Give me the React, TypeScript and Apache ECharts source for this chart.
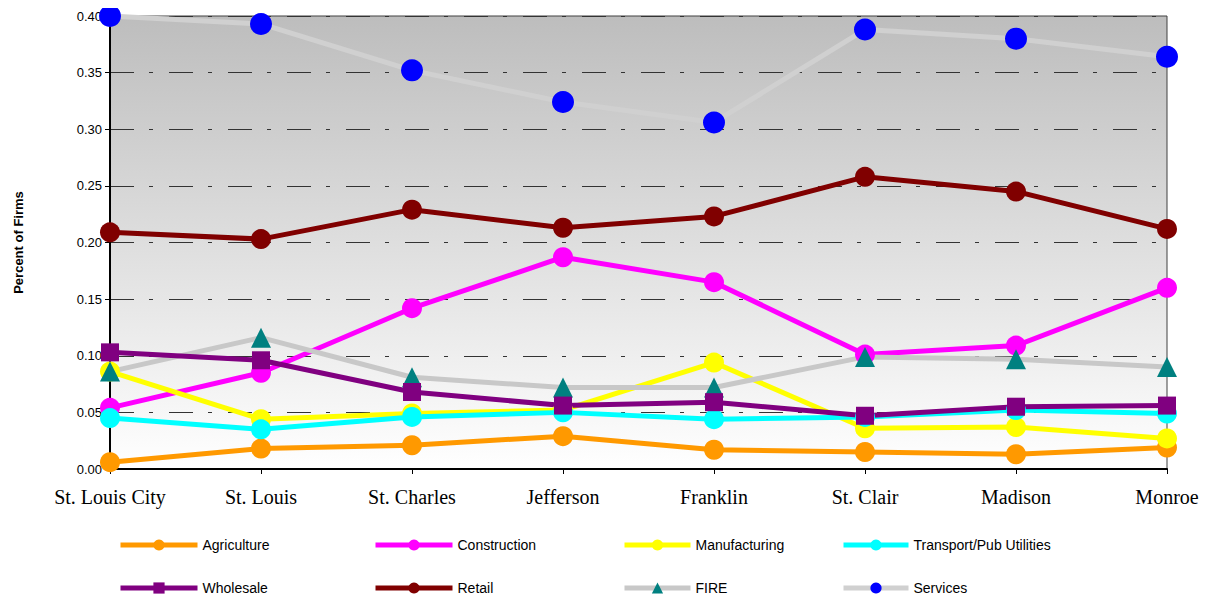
import React, { useEffect, useRef } from "react";
import * as echarts from "echarts";

const categories = ["St. Louis City", "St. Louis", "St. Charles", "Jefferson", "Franklin", "St. Clair", "Madison", "Monroe"];
const agriculture = [0.006, 0.018, 0.021, 0.029, 0.017, 0.015, 0.013, 0.019];
const construction = [0.054, 0.085, 0.142, 0.187, 0.165, 0.101, 0.109, 0.160];
const manufacturing = [0.086, 0.044, 0.049, 0.052, 0.094, 0.036, 0.037, 0.027];
const transport = [0.045, 0.035, 0.046, 0.050, 0.044, 0.046, 0.052, 0.049];
const wholesale = [0.103, 0.096, 0.068, 0.056, 0.059, 0.047, 0.055, 0.056];
const retail = [0.209, 0.203, 0.229, 0.213, 0.223, 0.258, 0.245, 0.212];
const fire = [0.086, 0.116, 0.081, 0.072, 0.072, 0.099, 0.097, 0.090];
const services = [0.400, 0.393, 0.352, 0.324, 0.306, 0.388, 0.380, 0.364];

export default function App() {
  const ref = useRef<HTMLDivElement>(null);
  useEffect(() => {
    if (!ref.current) return;
    const chart = echarts.init(ref.current, undefined, { renderer: "svg" });
    const mk = (name: string, data: number[], color: string, symbol: string, size: number, lineColor?: string) => ({
      name,
      type: "line",
      data,
      symbol,
      symbolSize: size,
      clip: false,
      lineStyle: { color: lineColor || color, width: 5 },
      itemStyle: { color, opacity: 1 },
      emphasis: { disabled: true },
    });
    const legendBase = {
      orient: "vertical",
      top: 530,
      itemHeight: 14,
      itemGap: 29,
      padding: 0,
      textStyle: { fontFamily: "Liberation Sans, Arial", fontSize: 14, color: "#000" },
      lineStyle: { width: 5 },
      selectedMode: false,
    };
    chart.setOption({
      animation: false,
      grid: {
        left: 102,
        right: 45,
        top: 8,
        bottom: 139,
        outerBoundsMode: "none",
        containLabel: false,
        show: true,
        backgroundColor: new echarts.graphic.LinearGradient(0, 0, 0, 1, [
          { offset: 0, color: "#bdbdbd" },
          { offset: 1, color: "#ffffff" },
        ]),
        borderColor: "#404040",
        borderWidth: 1,
      },
      legend: [
        { ...legendBase, left: 110, itemWidth: 77, data: ["Agriculture", "Wholesale"] },
        { ...legendBase, left: 365, itemWidth: 77, data: ["Construction", "Retail"] },
        { ...legendBase, left: 614, itemWidth: 66, data: ["Manufacturing", "FIRE"] },
        { ...legendBase, left: 833, itemWidth: 65, data: ["Transport/Pub Utilities", "Services"] },
      ],
      xAxis: {
        type: "category",
        data: categories,
        boundaryGap: false,
        axisLine: { lineStyle: { color: "#000", width: 2 } },
        axisTick: { show: true, length: 5, lineStyle: { color: "#000" } },
        axisLabel: { fontFamily: "Liberation Serif, serif", fontSize: 20, color: "#000", margin: 18 },
      },
      yAxis: {
        type: "value",
        min: 0,
        max: 0.4,
        interval: 0.05,
        name: "Percent of Firms",
        nameLocation: "middle",
        nameGap: 85,
        nameTextStyle: { fontFamily: "Liberation Sans, Arial", fontSize: 13, fontWeight: "bold", color: "#000" },
        axisLine: { show: true, lineStyle: { color: "#000", width: 2 } },
        axisTick: { show: true, length: 5, lineStyle: { color: "#000" } },
        axisLabel: {
          fontFamily: "Liberation Sans, Arial",
          fontSize: 13,
          color: "#000",
          margin: 8,
          formatter: (v: number) => v.toFixed(2),
        },
        splitLine: { show: true, lineStyle: { color: "#333", width: 1, type: [24, 15, 4, 16] } },
      },
      series: [
        mk("Agriculture", agriculture, "#ff9900", "circle", 20),
        mk("Construction", construction, "#ff00ff", "circle", 20),
        mk("Manufacturing", manufacturing, "#ffff00", "circle", 20),
        mk("Transport/Pub Utilities", transport, "#00ffff", "circle", 20),
        mk("FIRE", fire, "#008080", "triangle", 20, "#c8c8c8"),
        mk("Wholesale", wholesale, "#800080", "rect", 18),
        mk("Retail", retail, "#800000", "circle", 20),
        mk("Services", services, "#0000ff", "circle", 22, "#d0d0d0"),
      ],
    });
    return () => chart.dispose();
  }, []);
  return <div ref={ref} style={{ width: 1204, height: 600 }} />;
}
